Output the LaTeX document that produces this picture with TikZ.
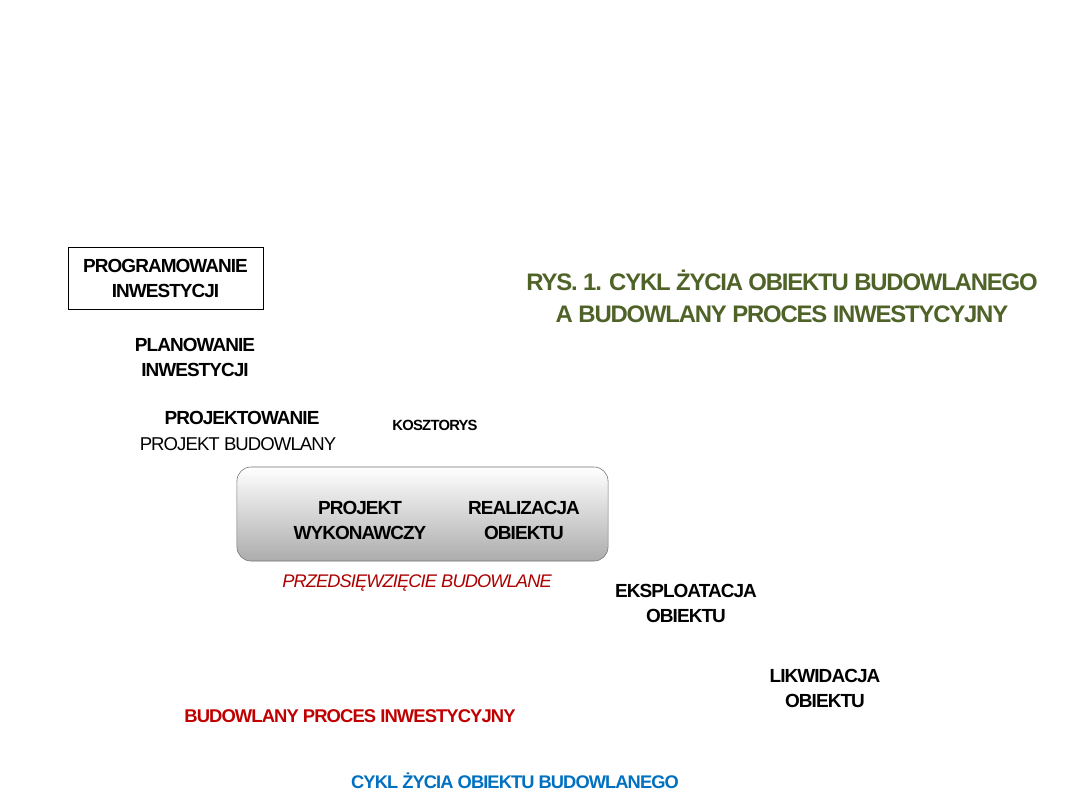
\documentclass[tikz,border=0pt]{standalone}
\usepackage{fontspec}
\setmainfont[LetterSpace=-5]{Liberation Sans}
\definecolor{titlegreen}{HTML}{4F6228}
\definecolor{procred}{HTML}{C00000}
\definecolor{cycleblue}{HTML}{0070C0}
\tikzset{
  stage/.style={font=\fontsize{13.5}{17.8}\selectfont\bfseries,align=center,inner sep=1pt},
  small/.style={font=\fontsize{10.5}{13}\selectfont\bfseries,inner sep=1pt},
  plain/.style={font=\fontsize{13.5}{17.8}\selectfont,inner sep=1pt},
  phasebox/.style={draw=gray!90!black,rounded corners=10,top color=white,bottom color=gray!65,
    minimum width=9.275cm,minimum height=2.35cm},
}

\begin{document}
\begin{tikzpicture}[x=0.025cm,y=-0.025cm]
  \useasboundingbox (0,0) rectangle (1080,810);
  % tytul
  \node[font=\fontsize{17}{22.8}\selectfont\bfseries,align=center,text=titlegreen] (title) at (782,296)
    {RYS. 1. CYKL ŻYCIA OBIEKTU BUDOWLANEGO\\A BUDOWLANY PROCES INWESTYCYJNY};

  \node[stage,draw,thin,minimum width=4.875cm,minimum height=1.55cm] (prog) at (165.5,278) {PROGRAMOWANIE\\INWESTYCJI};
  \node[stage] (plan) at (195,357) {PLANOWANIE\\INWESTYCJI};
  \node[stage] (projekt) at (242,418) {PROJEKTOWANIE};
  \node[plain,font=\fontsize{13.2}{17.8}\selectfont] (budowlany) at (238,444) {PROJEKT BUDOWLANY};
  \node[small] (koszt) at (435,425) {KOSZTORYS};

  \node[phasebox] (przed) at (422.5,514) {};
  \node[stage] (wyk) at (360,520) {PROJEKT\\WYKONAWCZY};
  \node[stage] (real) at (524,520) {REALIZACJA\\OBIEKTU};
  \node[plain,font=\fontsize{13}{17.8}\selectfont\itshape,text=procred!90!black] (przedlab) at (417,583)
    {PRZEDSIĘWZIĘCIE BUDOWLANE};

  \node[stage] (eksp) at (686,603) {EKSPLOATACJA\\OBIEKTU};
  \node[stage] (likw) at (825,688) {LIKWIDACJA\\OBIEKTU};

  \node[stage,font=\fontsize{13.1}{16}\selectfont\bfseries,text=procred] (proces) at (350,716) {BUDOWLANY PROCES INWESTYCYJNY};
  \node[stage,font=\fontsize{13}{16}\selectfont\bfseries,text=cycleblue] (cykl) at (515,781)
    {CYKL ŻYCIA OBIEKTU BUDOWLANEGO};
\end{tikzpicture}
\end{document}
